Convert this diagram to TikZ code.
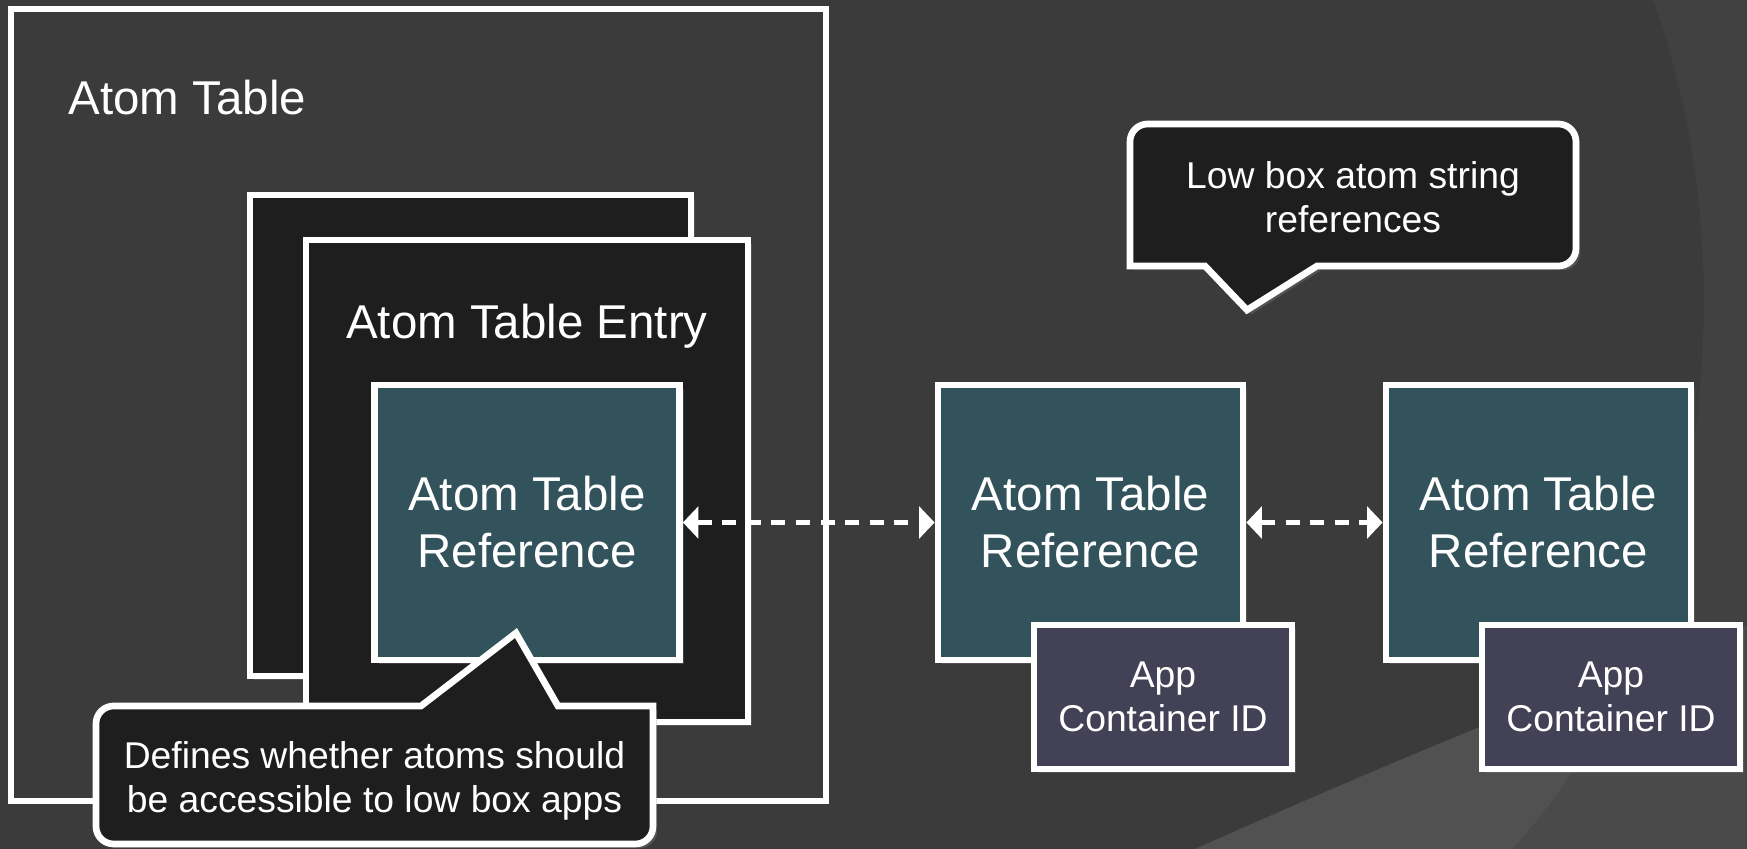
\documentclass[tikz,border=0pt]{standalone}
\usepackage{fontspec}
\setmainfont{Liberation Sans}
\usepackage{tikz}
\usetikzlibrary{arrows.meta,backgrounds,calc,positioning,fit,shadows}

\definecolor{hgDunkel}{HTML}{3B3B3B}
\definecolor{hgRand}{HTML}{414141}
\definecolor{hgHell}{HTML}{515151}
\definecolor{hgHellRand}{HTML}{4A4A4A}
\definecolor{kastenSchwarz}{HTML}{1E1E1E}
\definecolor{refFarbe}{HTML}{32525C}
\definecolor{appFarbe}{HTML}{434155}

\newcommand\grossSchrift{\fontsize{13.5}{16.2}\selectfont}
\newcommand\kleinSchrift{\fontsize{10.6}{12.4}\selectfont}

\tikzset{
  schatten/.style={drop shadow={shadow xshift=1.2pt,shadow yshift=-1.2pt,opacity=.35}},
  kasten/.style={draw=white,line width=1.9pt,inner sep=0pt,text=white},
  refkasten/.style={kasten,schatten,fill=refFarbe,align=center,font=\grossSchrift,
    minimum width=3.05cm,minimum height=2.75cm},
  appkasten/.style={kasten,schatten,fill=appFarbe,align=center,font=\kleinSchrift,
    minimum width=2.58cm,minimum height=1.44cm},
  sprechblase/.style={draw=white,line width=1.9pt,fill=kastenSchwarz,schatten},
  kleintext/.style={text=white,align=center,font=\kleinSchrift,inner sep=0pt},
  pfeil/.style={white,line width=1.6pt,dash pattern=on 4pt off 3pt,
    {Triangle[length=4.4pt,width=9pt]}-{Triangle[length=4.4pt,width=9pt]}}
}

\begin{document}
\begin{tikzpicture}[x=0.01cm,y=-0.01cm]
%Alle Koordinaten in Pixeln des Bildes (1747 x 849), y zeigt nach unten.
\fill[hgDunkel] (0,0) rectangle (1747,849);
\useasboundingbox (0,0) rectangle (1747,849);
%Hintergrundboegen rechts
\fill[hgHell] (1195,849) .. controls (1350,780) and (1560,690) .. (1747,625) -- (1747,849) -- cycle;
\fill[hgRand] (1653,0) .. controls (1745,250) and (1720,620) .. (1513,849) -- (1747,849) -- (1747,0) -- cycle;
\begin{scope}
  \clip (1195,849) .. controls (1350,780) and (1560,690) .. (1747,625) -- (1747,849) -- cycle;
  \fill[hgHellRand] (1653,0) .. controls (1745,250) and (1720,620) .. (1513,849) -- (1747,849) -- (1747,0) -- cycle;
\end{scope}

%Atom Table mit Eintraegen
\node[kasten,fit={(11,9) (826,801)}] (tabelle) {};
\node[anchor=west,inner sep=0pt,text=white,font=\grossSchrift] (tabelleText) at (68,98) {Atom Table};
\node[kasten,schatten,fill=kastenSchwarz,fit={(250,195) (691,676)}] (eintragHinten) {};
\node[kasten,schatten,fill=kastenSchwarz,fit={(306,240) (748,722)}] (eintrag) {};
\node[inner sep=0pt,text=white,font=\grossSchrift] (eintragText) at (527,326) {Atom Table Entry};
\node[refkasten] (ref1) at (527,522.5) {Atom Table\\Reference};

%Low box Referenzen
\foreach \xa/\nr in {938/2,1386/3}{
  \node[refkasten] (ref\nr) at (\xa+152.5,522.5) {Atom Table\\Reference};
  \node[appkasten] (app\nr) at (\xa+225,697) {App\\Container ID};
}

\draw[pfeil] (ref1.east) -- (ref2.west);
\draw[pfeil] (ref2.east) -- (ref3.west);

%Sprechblasen
\draw[sprechblase] (653,775) [rounded corners=5pt] -- (653,844) -- (96,844) -- (96,706) [sharp corners] -- (421,706) -- (516,633) -- (558,706) -- (653,706) [rounded corners=5pt] -- cycle;
\node[kleintext] (hinweisUnten) at (374.5,781) {Defines whether atoms should\\be accessible to low box apps};
\draw[sprechblase] (1130,195) [rounded corners=5pt] -- (1130,124) -- (1576,124) -- (1576,266) [sharp corners] -- (1317,266) -- (1247,310) -- (1205,266) -- (1130,266) [rounded corners=5pt] -- cycle;
\node[kleintext] (hinweisOben) at (1353,197) {Low box atom string\\references};
\end{tikzpicture}
\end{document}
